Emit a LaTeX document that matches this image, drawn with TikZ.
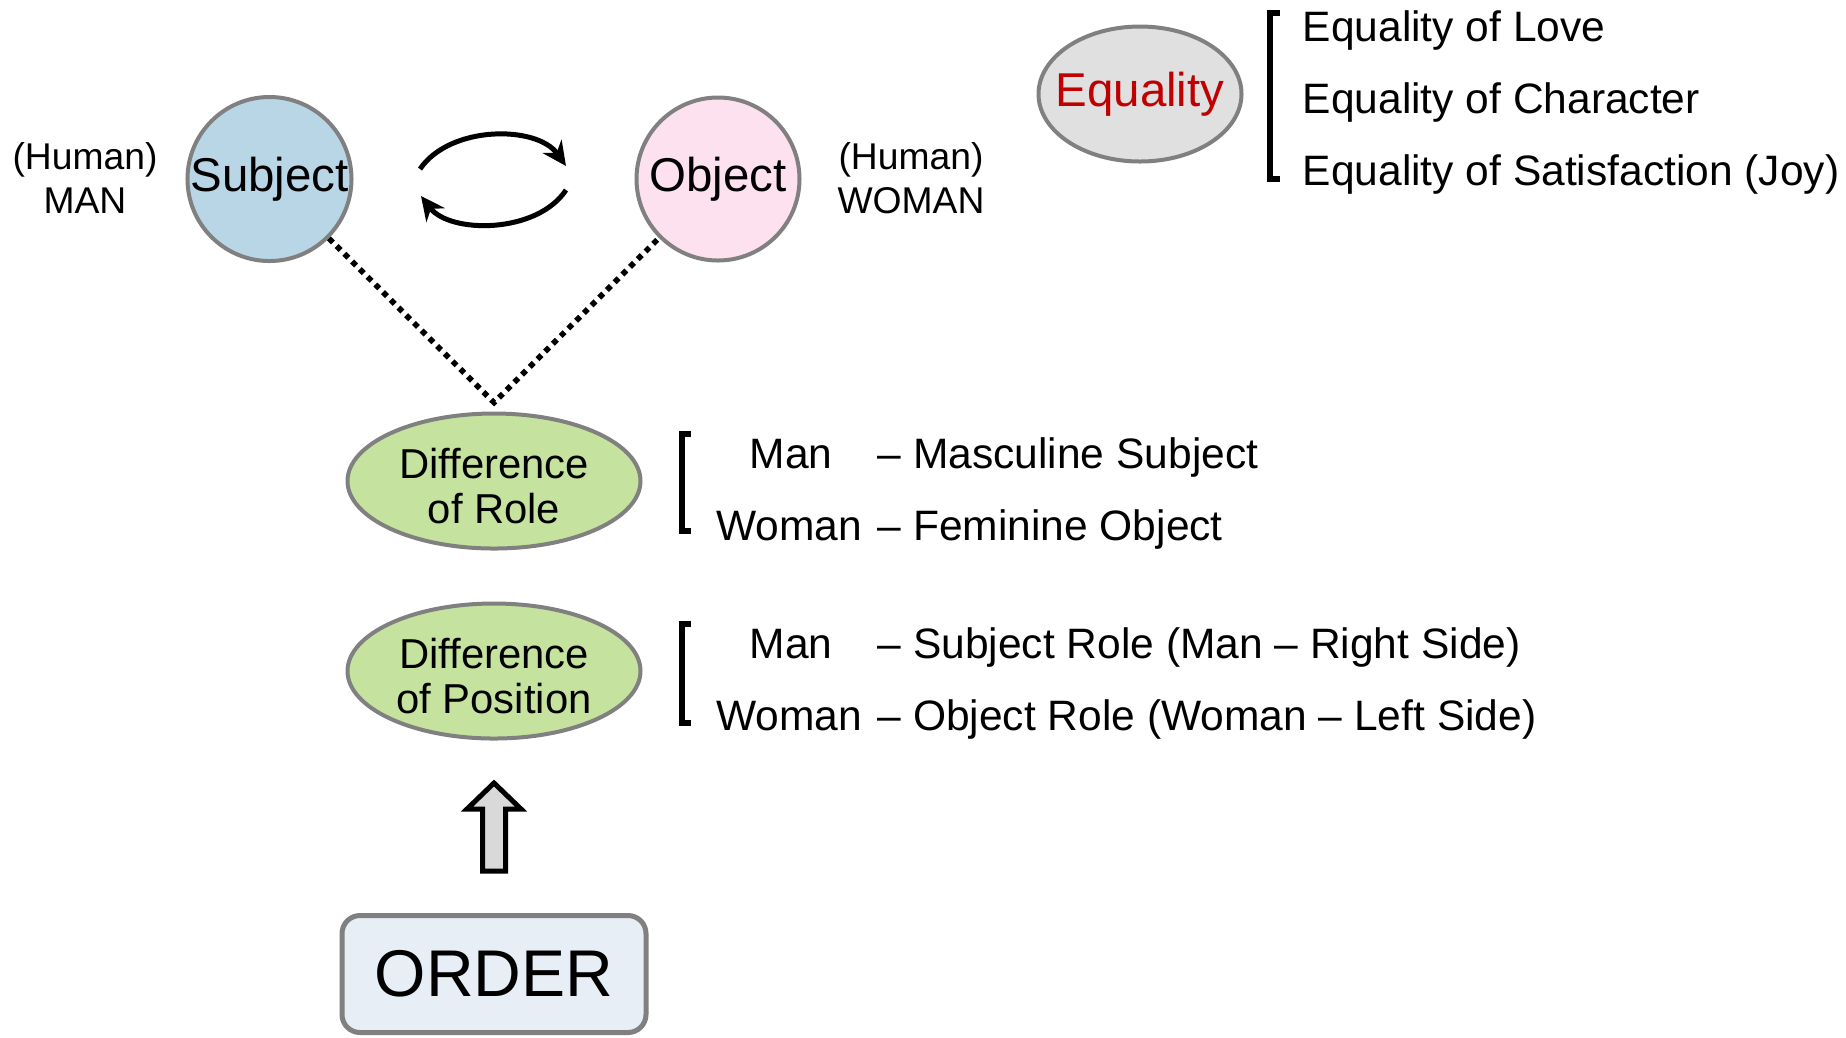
\documentclass[tikz,border=0pt]{standalone}
\usepackage{fontspec}
\setmainfont{Liberation Sans}
\usetikzlibrary{arrows.meta,positioning,shapes.geometric}

\definecolor{subjblue}{HTML}{B9D6E6}
\definecolor{objpink}{HTML}{FDE1EE}
\definecolor{diffgreen}{HTML}{C5E29F}
\definecolor{eqgray}{HTML}{E0E0E0}
\definecolor{ordblue}{HTML}{E7EEF5}
\definecolor{rimgray}{HTML}{808080}
\definecolor{eqred}{HTML}{C00000}

\begin{document}
\begin{tikzpicture}[
  x=0.1mm, y=-0.1mm,
  rim/.style={draw=rimgray,line width=0.4mm},
  person/.style={circle,rim,minimum size=16.3mm,inner sep=0pt,font=\fontsize{13.5}{15}\selectfont},
  diffbox/.style={ellipse,rim,fill=diffgreen,minimum width=29.3mm,minimum height=13.5mm,inner sep=0pt},
  difftext/.style={align=center,inner sep=0pt,yshift=-0.5mm,font=\fontsize{11.9}{12.7}\selectfont},
  sidelbl/.style={align=center,inner sep=0pt,font=\fontsize{10.6}{12.4}\selectfont},
  item/.style={anchor=base west,inner sep=0pt,font=\fontsize{12.1}{14}\selectfont},
  who/.style={anchor=base,inner sep=0pt,font=\fontsize{12.1}{14}\selectfont},
  brk/.style={draw=black,line width=0.55mm},
  xchg/.style={draw=black,line width=0.5mm,-{Stealth[length=2.4mm,width=2.3mm]}},
  link/.style={draw=black,line width=1.6pt,dash pattern=on 1.6pt off 1.5pt},
  lift/.style={draw=black,line width=0.5mm,fill=black!15,line join=miter}
]
\useasboundingbox (0,0) rectangle (1846,1037);

% ---- subject / object ----
\node[person,fill=subjblue] (subj) at (269.5,179) {Subject};
\node[person,fill=objpink]  (obj)  at (718,179)   {Object};
\node[sidelbl] (man)   at (85,178)  {(Human)\\MAN};
\node[sidelbl] (woman) at (911,178) {(Human)\\WOMAN};

% exchange arrows
\coordinate (tl) at (420,169);
\coordinate (tr) at (566,166);
\coordinate (br) at (566,190);
\coordinate (bl) at (421,196);
\draw[xchg] (tl) .. controls (450,125) and (537,125) .. (tr);
\draw[xchg] (br) .. controls (537,234) and (450,234) .. (bl);

% ---- equality ----
\node[ellipse,rim,fill=eqgray,minimum width=20.3mm,minimum height=13.5mm,inner sep=0pt,
      font=\fontsize{13.5}{15}\selectfont,text=eqred] (eq) at (1140,94) {\makebox[0pt]{Equality}};
\draw[brk] (1280,13) -- (1270,13) -- (1270,179) -- (1280,179);
\foreach \y/\t [count=\i] in {41/Equality of Love, 113/Equality of Character,
    185/Equality of Satisfaction (Joy)}
  \node[item] (eq\i) at (1302,\y) {\t};

% ---- differences ----
\node[diffbox,label={[difftext]center:Difference\\of Role}]     (role) at (494,481) {};
\node[diffbox,label={[difftext]center:Difference\\of Position}] (pos)  at (494,671) {};
\draw[link] (subj.-45) -- ([yshift=0.9mm]role.north) -- (obj.-135);

\draw[brk] (691,434) -- (682,434) -- (682,531) -- (691,531);
\node[who]  (rman)    at (791,468) {Man};
\node[item] (rmanx)   at (877,468) {-- Masculine Subject};
\node[who]  (rwoman)  at (789,540) {Woman};
\node[item] (rwomanx) at (877,540) {-- Feminine Object};

\draw[brk] (691,624) -- (682,624) -- (682,723) -- (691,723);
\node[who]  (pman)    at (791,658) {Man};
\node[item] (pmanx)   at (877,658) {-- Subject Role (Man -- Right Side)};
\node[who]  (pwoman)  at (789,730) {Woman};
\node[item] (pwomanx) at (877,730) {-- Object Role (Woman -- Left Side)};

% ---- order ----
\node[draw=rimgray,line width=0.5mm,fill=ordblue,rounded corners=1.8mm,
      minimum width=30.4mm,minimum height=11.7mm,
      font=\fontsize{18.8}{20}\selectfont] (order) at (494,974) {\raisebox{-0.3mm}{ORDER}};
\draw[lift] (482.5,871) -- (482.5,809) -- (467,809) -- (494,783)
  -- (521,809) -- (505.5,809) -- (505.5,871) -- cycle;

\end{tikzpicture}
\end{document}
